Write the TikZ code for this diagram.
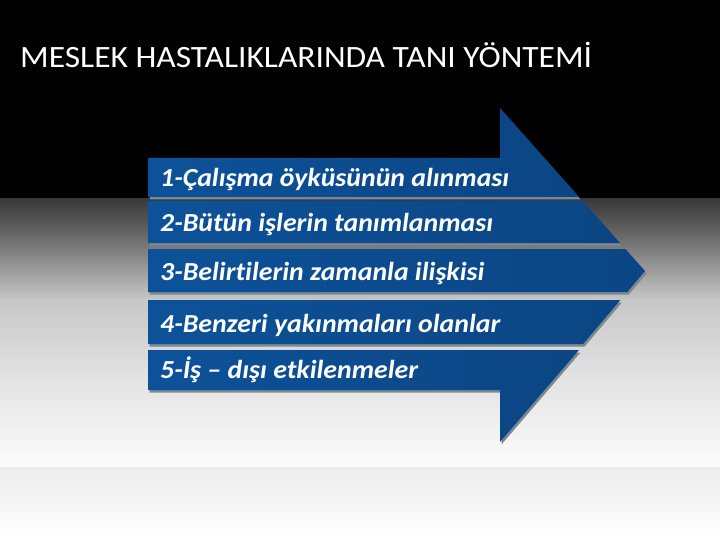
\documentclass[tikz,border=0pt]{standalone}
\usepackage{fontspec}
\setmainfont{Carlito}
\newfontfamily\titlefont[FakeStretch=1.08]{Carlito}
\newfontfamily\itemfont[FakeStretch=1.07,Ligatures=NoCommon]{Carlito}
\usetikzlibrary{positioning,calc}

\definecolor{barL}{HTML}{0D5299}
\definecolor{barM}{HTML}{0A63B8}
\definecolor{barR}{HTML}{0B4583}
\definecolor{barshadow}{HTML}{7A8794}

\tikzset{
  bar/.style={left color=barL, middle color=barM, right color=barR},
  barshade/.style={fill=barshadow, shift={(1.5,2.5)}},
  item/.style={anchor=base west, text=white, inner sep=0pt,
    font=\itemfont\fontsize{26}{28}\selectfont\bfseries\itshape},
}

\begin{document}
\begin{tikzpicture}[x=1pt,y=-1pt]
    \useasboundingbox (0,0) rectangle (720,540);

    % Background
    \fill[black] (0,0) rectangle (720,199);
    \shade[top color=black!78, bottom color=black!62] (0,198.5) rectangle (720,230);
    \shade[top color=black!62, bottom color=black!22] (0,229.5) rectangle (720,300);
    \shade[top color=black!22, bottom color=black!11] (0,299.5) rectangle (720,380);
    \shade[top color=black!11, bottom color=black!1] (0,379.5) rectangle (720,467);
    \shade[top color=black!7, bottom color=white] (0,467) rectangle (720,540);

    % Title
    \node[anchor=base west, text=white, inner sep=0pt,
      font=\titlefont\fontsize{31}{33}\selectfont] (title) at (20,68)
      {MESLEK HASTALIKLARINDA TANI YÖNTEMİ};

    % Arrow strips: shadows
    \fill[barshade] (148,158) -- (500,158) -- (500,108) -- (579.2,197) -- (148,197) -- cycle;
    \fill[barshade] (148,201) -- (582.7,201) -- (620.1,243) -- (148,243) -- cycle;
    \fill[barshade] (148,249) -- (625.4,249) -- (645,271) -- (627.2,292) -- (148,292) -- cycle;
    \fill[barshade] (148,300) -- (620.4,300) -- (583.1,344) -- (148,344) -- cycle;
    \fill[barshade] (148,350) -- (578.9,350) -- (500,442) -- (500,390) -- (148,390) -- cycle;

    % Arrow strips
    \shade[bar] (148,158) -- (500,158) -- (500,108) -- (579.2,197) -- (148,197) -- cycle;
    \shade[bar] (148,201) -- (582.7,201) -- (620.1,243) -- (148,243) -- cycle;
    \shade[bar] (148,249) -- (625.4,249) -- (645,271) -- (627.2,292) -- (148,292) -- cycle;
    \shade[bar] (148,300) -- (620.4,300) -- (583.1,344) -- (148,344) -- cycle;
    \shade[bar] (148,350) -- (578.9,350) -- (500,442) -- (500,390) -- (148,390) -- cycle;

    % Items
    \node[item] (s1) at (160,187) {1-Çalışma öyküsünün alınması};
    \node[item] (s2) at (160,231) {2-Bütün işlerin tanımlanması};
    \node[item] (s3) at (160,280) {3-Belirtilerin zamanla ilişkisi};
    \node[item] (s4) at (160,332) {4-Benzeri yakınmaları olanlar};
    \node[item] (s5) at (160,378) {5-İş – dışı etkilenmeler};
\end{tikzpicture}
\end{document}
